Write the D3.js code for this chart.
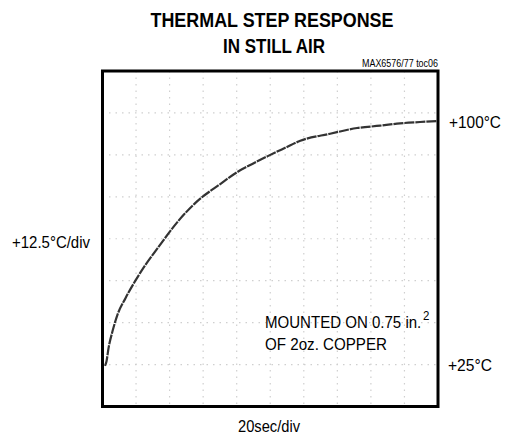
<!DOCTYPE html>
<html>
<head>
<meta charset="utf-8">
<script src="https://cdn.jsdelivr.net/npm/d3@7"></script>
<style>
  body { margin: 0; background: #fff; }
  svg { display: block; font-family: "Liberation Sans", Arial, sans-serif; }
</style>
</head>
<body>
<svg id="chart" width="508" height="438"></svg>
<script>
// time (sec) vs temperature (°C)
const timeSec = [1.5, 2.4, 3.6, 6.0, 8.9, 13.7, 19.6, 25.6, 33.3, 45.2, 55.4, 70.2, 80.4, 89.3, 98.8, 108.9, 117.9, 135.7, 151.8, 165.5, 177.4, 189.3, 199.4];
const tempC = [24.6, 26.0, 29.9, 35.0, 39.8, 44.8, 50.0, 54.7, 60.0, 67.8, 73.2, 78.8, 82.4, 84.8, 87.2, 89.6, 91.7, 93.8, 95.5, 96.2, 96.9, 97.3, 97.6];

// graticule: 10 x-divisions of 20 sec, 8 y-divisions of 12.5°C
const xDivs = d3.range(0, 201, 20);
const yDivs = d3.range(12.5, 112.6, 12.5);

const svg = d3.select("#chart");

const x = d3.scaleLinear().domain([0, 200]).range([102.5, 438]);
const y = d3.scaleLinear().domain([12.5, 112.5]).range([406.5, 71]);

// narrow-looking text: squeeze to the widths seen in the original
const txt = (tx, ty, s, size, len, anchor) => svg.append("text")
    .attr("x", tx).attr("y", ty)
    .attr("text-anchor", anchor || "start")
    .attr("textLength", len)
    .attr("lengthAdjust", "spacingAndGlyphs")
    .style("font-size", size + "px")
    .text(s);

// title
txt(272, 27, "THERMAL STEP RESPONSE", 20, 243, "middle").style("font-weight", "bold");
txt(274, 53, "IN STILL AIR", 20, 102, "middle").style("font-weight", "bold");
txt(438, 67, "MAX6576/77 toc06", 10, 76, "end");

// dotted grid
const grid = svg.append("g").attr("stroke", "#cfcfcf").attr("stroke-width", 1.2)
    .attr("stroke-dasharray", "1.5,5");
grid.selectAll("line.h").data(yDivs.slice(1, -1)).enter().append("line")
    .attr("class", "h")
    .attr("x1", x(0)).attr("x2", x(200))
    .attr("y1", d => y(d)).attr("y2", d => y(d));
grid.selectAll("line.v").data(xDivs.slice(1, -1)).enter().append("line")
    .attr("class", "v")
    .attr("y1", y(112.5)).attr("y2", y(12.5))
    .attr("x1", d => x(d)).attr("x2", d => x(d));

// trace
const line = d3.line()
    .x((d, i) => x(timeSec[i]))
    .y(d => y(d))
    .curve(d3.curveMonotoneX);

svg.append("path")
    .datum(tempC)
    .attr("fill", "none")
    .attr("stroke", "#333")
    .attr("stroke-width", 2.2)
    .attr("stroke-dasharray", "10,1")
    .attr("d", line);

// frame
svg.append("rect")
    .attr("x", x(0)).attr("y", y(112.5))
    .attr("width", x(200) - x(0)).attr("height", y(12.5) - y(112.5))
    .attr("fill", "none").attr("stroke", "#000").attr("stroke-width", 3);

// labels
txt(449, y(tempC[tempC.length - 1]) + 7, "+100°C", 17, 52);
txt(448, y(25) + 6, "+25°C", 17, 44);
txt(12, 248, "+12.5°C/div", 17, 78);
txt(269, 432, "20sec/div", 17, 62, "middle");

// note with superscript, squeezed by a transform instead of textLength
const note = svg.append("text")
    .attr("transform", "translate(265,328) scale(0.885,1)")
    .style("font-size", "17px");
note.append("tspan").text("MOUNTED ON 0.75 in.");
note.append("tspan")
    .attr("dx", 2).attr("dy", -8)
    .style("font-size", "13px")
    .text("2");
txt(265, 350, "OF 2oz. COPPER", 17, 122);
</script>
</body>
</html>
